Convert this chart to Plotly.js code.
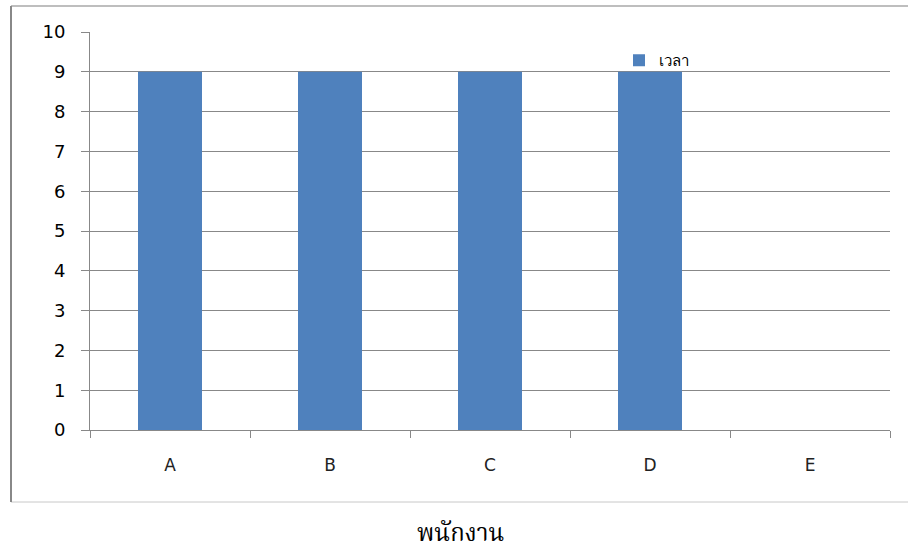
<!DOCTYPE html>
<html>
<head>
<meta charset="utf-8">
<script src="https://cdn.plot.ly/plotly-3.0.1.min.js"></script>
<style>
  html, body { margin: 0; padding: 0; background: #fff; }
  #chart { width: 908px; height: 554px; }
</style>
</head>
<body>
<div id="chart"></div>
<script>
// Employees and hours worked
const employees = ['A', 'B', 'C', 'D', 'E'];
const hours = [9, 9, 9, 9, 0];
const yTicks = [0, 1, 2, 3, 4, 5, 6, 7, 8, 9, 10];

const W = 908, H = 554;
const M = { l: 90, r: 18, t: 32, b: 124 };
const pw = W - M.l - M.r, ph = H - M.t - M.b;
const px = x => (x - M.l) / pw;
const py = y => (H - M.b - y) / ph;

const trace = {
  type: 'bar',
  x: employees,
  y: hours,
  name: 'เวลา',
  marker: { color: '#4F81BD' },
  width: 0.4,
  hoverinfo: 'x+y'
};

const layout = {
  width: W,
  height: H,
  margin: M,
  paper_bgcolor: '#ffffff',
  plot_bgcolor: '#ffffff',
  showlegend: true,
  legend: {
    x: px(619), y: py(44), xanchor: 'left', yanchor: 'top',
    bgcolor: 'rgba(0,0,0,0)',
    font: { family: '"DejaVu Sans", sans-serif', size: 15, color: '#000' },
    itemwidth: 30
  },
  xaxis: {
    type: 'category',
    tickson: 'boundaries',
    ticks: 'outside',
    ticklen: 7,
    tickcolor: '#888',
    showline: true,
    linecolor: '#888',
    linewidth: 1,
    showgrid: false,
    zeroline: false,
    ticklabelstandoff: 20,
    tickfont: { family: '"DejaVu Sans", sans-serif', size: 17, color: '#222' }
  },
  yaxis: {
    range: [0, 10],
    tickvals: yTicks,
    ticktext: yTicks.map(String),
    ticks: 'outside',
    ticklen: 8,
    tickcolor: '#888',
    showline: true,
    linecolor: '#888',
    linewidth: 1,
    showgrid: true,
    gridcolor: '#888',
    gridwidth: 1,
    zeroline: false,
    ticklabelstandoff: 12,
    tickfont: { family: '"DejaVu Sans", sans-serif', size: 18, color: '#000' }
  },
  shapes: [
    // chart frame
    { type: 'rect', xref: 'paper', yref: 'paper',
      x0: px(11), x1: px(912), y0: py(502), y1: py(6),
      line: { color: '#c8c8c8', width: 1 } },
    { type: 'line', xref: 'paper', yref: 'paper',
      x0: px(11), x1: px(912), y0: py(6), y1: py(6),
      line: { color: '#999', width: 1 } },
    { type: 'line', xref: 'paper', yref: 'paper',
      x0: px(11), x1: px(11), y0: py(502), y1: py(6),
      line: { color: '#888', width: 2 } },
    // gridline extension across the tick area at the top
    { type: 'line', xref: 'paper', yref: 'y',
      x0: px(82), x1: 0, y0: 10, y1: 10,
      line: { color: '#888', width: 1 } }
  ],
  annotations: [
    { text: 'พนักงาน', xref: 'paper', yref: 'paper',
      x: px(460), y: py(534), xanchor: 'center', yanchor: 'middle',
      showarrow: false,
      font: { family: '"Noto Serif Thai", "Noto Sans Thai", serif', size: 24, color: '#000' } }
  ]
};

Plotly.newPlot('chart', [trace], layout, { displayModeBar: false, staticPlot: true });
</script>
</body>
</html>
